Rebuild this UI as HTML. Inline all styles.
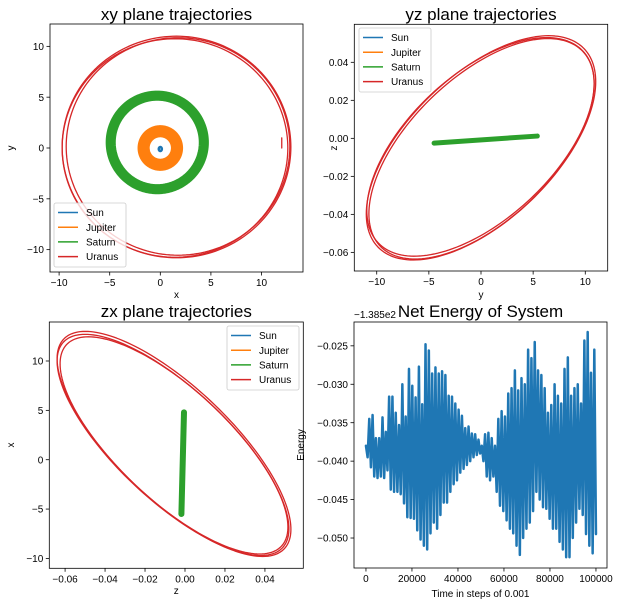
<!DOCTYPE html>
<html><head><meta charset="utf-8">
<style>
html,body{margin:0;padding:0;background:#fff;}
svg{display:block;font-family:"Liberation Sans","DejaVu Sans",sans-serif;}
</style></head>
<body>
<svg id="fig" width="621" height="606" viewBox="0 0 621 606" xmlns="http://www.w3.org/2000/svg"></svg>
<script>
// ---- data ----
const bodyNames = ["Sun","Jupiter","Saturn","Uranus"];
const bodyColors = ["#1f77b4","#ff7f0e","#2ca02c","#d62728"];
// xy orbit rings: [cx, cy, radius, ringWidth(units)]
const xyJupiter = [0.0, 0.0, 1.65, 1.2];
const xySaturn = [-0.3, 0.55, 4.6, 1.0];
const xySun = [0.0, -0.1, 0.15];
// Uranus loops: [cx, cy, rx, ry]
const xyUranusLoops = [[1.6,0.1,11.3,10.9],[1.45,0.0,11.15,10.75],[1.75,0.15,11.05,10.7]];
// yz Uranus loops: [yAmp, yCenter, zAmp, zCenter, phase]
const yzUranusLoops = [[11.0,0.0,0.059,-0.005,0.94],[10.8,0.05,0.058,-0.0055,0.94],[10.9,-0.05,0.0575,-0.0045,0.95]];
const yzSaturnBand = [[-4.5,-0.0025],[5.4,0.0012]];
// zx Uranus loops: [xAmp, xCenter, zAmp, zCenter, phase]
const zxUranusLoops = [[11.4,1.6,0.0585,-0.0055,0.71],[11.2,1.5,0.058,-0.006,0.71],[11.0,1.45,0.057,-0.0055,0.72]];
const zxSaturnBand = [[-0.0005,4.8],[-0.0018,-5.5]];
const energyHighs = [-0.038,-0.0345,-0.034,-0.037,-0.037,-0.0343,-0.0362,-0.0316,-0.0316,-0.0337,-0.0353,-0.030,-0.0342,-0.028,-0.0302,-0.0317,-0.0277,-0.0326,-0.0248,-0.0256,-0.0286,-0.0278,-0.0286,-0.0283,-0.0288,-0.0315,-0.0316,-0.0325,-0.0333,-0.0341,-0.0357,-0.0355,-0.0364,-0.0365,-0.0372,-0.0380,-0.0365,-0.0363,-0.0370,-0.0380,-0.0345,-0.0335,-0.0342,-0.0312,-0.0305,-0.0282,-0.0308,-0.0292,-0.0300,-0.0255,-0.0266,-0.0245,-0.0282,-0.0288,-0.0305,-0.0337,-0.0327,-0.0300,-0.0315,-0.0325,-0.0280,-0.0265,-0.0315,-0.0305,-0.0300,-0.0325,-0.0243,-0.0232,-0.0285,-0.0255];
const energyLows = [-0.0395,-0.0408,-0.042,-0.0422,-0.042,-0.0422,-0.0412,-0.0437,-0.044,-0.044,-0.0443,-0.0455,-0.0473,-0.0474,-0.0475,-0.0490,-0.0502,-0.0510,-0.0515,-0.0494,-0.0480,-0.0488,-0.0470,-0.0454,-0.0454,-0.0440,-0.0430,-0.0425,-0.0415,-0.0410,-0.0405,-0.0400,-0.0395,-0.0392,-0.0390,-0.0400,-0.0420,-0.0425,-0.0420,-0.0440,-0.0458,-0.0465,-0.0477,-0.0488,-0.0494,-0.0510,-0.0522,-0.0500,-0.0488,-0.0480,-0.0465,-0.0440,-0.0450,-0.0460,-0.0462,-0.0475,-0.0488,-0.0488,-0.0505,-0.0515,-0.0525,-0.0525,-0.0500,-0.0480,-0.0462,-0.0470,-0.0495,-0.0510,-0.0520,-0.0495];
const energyStepMax = 100000;
const ticksXY = [-10,-5,0,5,10];
const ticksYZy = [-10,-5,0,5,10];
const ticksYZz = [-0.06,-0.04,-0.02,0.00,0.02,0.04];
const ticksZXz = [-0.06,-0.04,-0.02,0.00,0.02,0.04];
const ticksZXx = [-10,-5,0,5,10];
const ticksEx = [0,20000,40000,60000,80000,100000];
const ticksEy = [-0.050,-0.045,-0.040,-0.035,-0.030,-0.025];

// ---- helpers ----
const NS="http://www.w3.org/2000/svg";
const svg=document.getElementById('fig');
function mk(tag,attrs,parent){const e=document.createElementNS(NS,tag);for(const k in attrs)e.setAttribute(k,attrs[k]);(parent||svg).appendChild(e);return e;}
function fmt(v,d){let s=v.toFixed(d);if(Math.abs(v)<1e-12)s=(0).toFixed(d);return s.replace('-','\u2212');}
function makeAxes(name,L,R,T,B,xd,yd){
  const g=mk('g',{});
  
  
  const sx=v=>L+(v-xd[0])/(xd[1]-xd[0])*(R-L);
  const sy=v=>B-(v-yd[0])/(yd[1]-yd[0])*(B-T);
  const clipId='clip-'+name;
  const cp=mk('clipPath',{id:clipId},g);mk('rect',{x:L,y:T,width:R-L,height:B-T},cp);
  const plot=mk('g',{'clip-path':'url(#'+clipId+')'},g);
  return {g,plot,sx,sy,L,R,T,B};
}
function frame(ax){const r=mk('rect',{x:ax.L,y:ax.T,width:ax.R-ax.L,height:ax.B-ax.T,fill:'none',stroke:'#000','stroke-width':0.8},ax.g);
  }
function xticks(ax,ticks,d){const g=mk('g',{},ax.g);
  ticks.forEach(v=>{const x=ax.sx(v);mk('line',{x1:x,x2:x,y1:ax.B,y2:ax.B+3.5,stroke:'#000','stroke-width':0.8},g);
  const t=mk('text',{x:x,y:ax.B+14,'font-size':10,'text-anchor':'middle',fill:'#000'},g);t.textContent=fmt(v,d);});}
function yticks(ax,ticks,d){const g=mk('g',{},ax.g);
  ticks.forEach(v=>{const y=ax.sy(v);mk('line',{x1:ax.L-3.5,x2:ax.L,y1:y,y2:y,stroke:'#000','stroke-width':0.8},g);
  const t=mk('text',{x:ax.L-6,y:y+3.6,'font-size':10,'text-anchor':'end',fill:'#000'},g);t.textContent=fmt(v,d);});}
function label(ax,txt,x,y,rot,name,size){const t=mk('text',{x:x,y:y,'font-size':size||10,'text-anchor':'middle',fill:'#000'},ax.g);
  if(rot)t.setAttribute('transform','rotate(-90 '+x+' '+y+')');t.textContent=txt;return t;}
function legend(ax,x,y){const g=mk('g',{},ax.g);
  mk('rect',{x:x,y:y,width:72,height:64,rx:2,fill:'#fff','fill-opacity':0.8,stroke:'#ccc','stroke-width':0.8},g);
  bodyNames.forEach((n,i)=>{const e=mk('g',{},g);
    const yy=y+9.5+i*14.7;mk('line',{x1:x+4,x2:x+24,y1:yy,y2:yy,stroke:bodyColors[i],'stroke-width':1.5},e);
    const t=mk('text',{x:x+32,y:yy+3.6,'font-size':10,fill:'#000'},e);t.textContent=n;});}
function path(ax,pts,color,w,name){const d=pts.map((p,i)=>(i?'L':'M')+ax.sx(p[0]).toFixed(2)+','+ax.sy(p[1]).toFixed(2)).join('');
  const p=mk('path',{d:d,fill:'none',stroke:color,'stroke-width':w,'stroke-linejoin':'round','stroke-linecap':'round'},ax.plot);
  return p;}
function ring(cx,cy,rx,ry){const pts=[];for(let k=0;k<=180;k++){const t=k/180*2*Math.PI;pts.push([cx+rx*Math.cos(t),cy+ry*Math.sin(t)]);}return pts;}

// ---- xy ----
let ax=makeAxes('xy-plot',50,303,24,272,[-10.9,14.1],[-12.2,12.2]);
{const s=(ax.R-ax.L)/25;
path(ax,ring(xySaturn[0],xySaturn[1],xySaturn[2],xySaturn[2]),bodyColors[2],xySaturn[3]*s,'saturn-xy');
path(ax,ring(xyJupiter[0],xyJupiter[1],xyJupiter[2],xyJupiter[2]),bodyColors[1],xyJupiter[3]*s,'jupiter-xy');
path(ax,ring(xySun[0],xySun[1],xySun[2],xySun[2]*1.3),bodyColors[0],2.5,'sun-xy');
xyUranusLoops.forEach((l,i)=>path(ax,ring(l[0],l[1],l[2],l[3]),bodyColors[3],1.3,'uranus-xy-loop-'+i));
path(ax,[[12.0,0.0],[12.0,1.0]],bodyColors[3],1.3,'uranus-xy-start');}
frame(ax);xticks(ax,ticksXY,0);yticks(ax,ticksXY,0);
label(ax,'xy plane trajectories',176.5,20,false,'xy-title',17);
label(ax,'x',176.5,298,false,'xy-x-label');label(ax,'y',14,148,true,'xy-y-label');
legend(ax,54,203);

// ---- yz ----
function tiltLoop(aA,aC,bA,bC,ph,swap){const pts=[];for(let k=0;k<=180;k++){const t=k/180*2*Math.PI;const u=aC+aA*Math.cos(t);const v=bC+bA*Math.cos(t-ph);pts.push(swap?[v,u]:[u,v]);}return pts;}
ax=makeAxes('yz-plot',354.3,607.7,24.3,271,[-12.15,12.15],[-0.0698,0.06]);
path(ax,yzSaturnBand,bodyColors[2],5,'saturn-yz');
yzUranusLoops.forEach((l,i)=>path(ax,tiltLoop(l[0],l[1],l[2],l[3],l[4],false),bodyColors[3],1.3,'uranus-yz-loop-'+i));
frame(ax);xticks(ax,ticksYZy,0);yticks(ax,ticksYZz,2);
label(ax,'yz plane trajectories',481,20,false,'yz-title',17);
label(ax,'y',481,298,false,'yz-x-label');label(ax,'z',337,148,true,'yz-y-label');
legend(ax,359,28);

// ---- zx ----
ax=makeAxes('zx-plot',49.3,303.3,322,568.3,[-0.0679,0.0592],[-11.0,13.95]);
path(ax,zxSaturnBand,bodyColors[2],6,'saturn-zx');
zxUranusLoops.forEach((l,i)=>{const pts=tiltLoop(l[0],l[1],-l[2],0,l[4],true).map(p=>[p[0]+l[3],p[1]]);path(ax,pts,bodyColors[3],1.3,'uranus-zx-loop-'+i);});
frame(ax);xticks(ax,ticksZXz,2);yticks(ax,ticksZXx,0);
label(ax,'zx plane trajectories',176.3,317,false,'zx-title',17);
label(ax,'z',176.3,594,false,'zx-x-label');label(ax,'x',14,445,true,'zx-y-label');
legend(ax,227,326);

// ---- energy ----
ax=makeAxes('energy-plot',354,607,322,568,[-5200,104800],[-0.0539,-0.0219]);
{const vals=[];energyHighs.forEach((h,i)=>{vals.push(h);vals.push(energyLows[i]);});
const n=vals.length;const pts=vals.map((v,i)=>[i/(n-1)*energyStepMax,v]);
path(ax,pts,bodyColors[0],2.5,'energy-line');}
frame(ax);xticks(ax,ticksEx,0);yticks(ax,ticksEy,3);
label(ax,'Net Energy of System',480.5,317,false,'energy-title',17);
label(ax,'Time in steps of 0.001',480.5,597,false,'energy-x-label');label(ax,'Energy',304,445,true,'energy-y-label');
{const t=mk('text',{x:354,y:318,'font-size':10,fill:'#000'},ax.g);t.textContent='\u22121.385e2';}
</script>
</body></html>
